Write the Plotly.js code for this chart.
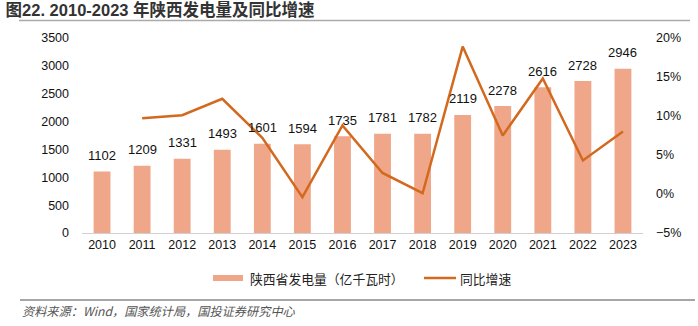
<!DOCTYPE html>
<html><head><meta charset="utf-8">
<script src="https://cdn.plot.ly/plotly-3.0.1.min.js"></script>
<style>html,body{margin:0;padding:0;background:#fff;}#chart{width:698px;height:326px;}</style>
</head><body><div id="chart"></div>
<script>
const years = ['2010','2011','2012','2013','2014','2015','2016','2017','2018','2019','2020','2021','2022','2023'];
const generation = [1102,1209,1331,1493,1601,1594,1735,1781,1782,2119,2278,2616,2728,2946];
const growth = [null,9.7,10.1,12.2,7.2,-0.4,8.8,2.7,0.1,18.9,7.5,14.8,4.3,8.0];
const barName = '陕西省发电量（亿千瓦时）';
const lineName = '同比增速';

const FONT = 'Liberation Sans, Arial, "Noto Sans CJK SC", sans-serif';
const CJK = '"Noto Sans CJK SC", sans-serif';
const BAR_COLOR = '#F0A688', LINE_COLOR = '#D2691E';
const traces = [
  {type:'bar', x:years, y:generation, name:barName, marker:{color:BAR_COLOR}, hoverinfo:'skip'},
  {type:'scatter', mode:'lines', x:years, y:growth, name:lineName, yaxis:'y2',
   line:{color:LINE_COLOR, width:2.5}, connectgaps:false}
];
const py = v => (233 - v) / 195; // pixel y -> paper y
const px = v => (v - 82) / 561;  // pixel x -> paper x
const labelAnns = years.map((yr, i) => ({
  x: i, y: generation[i], xref:'x', yref:'y', text: String(generation[i]),
  showarrow:false, yanchor:'middle', yshift:16, font:{size:13, color:'#111', family:FONT}
}));
const layout = {
  width:698, height:326, margin:{l:82, r:55, t:38, b:93},
  paper_bgcolor:'#fff', plot_bgcolor:'#fff',
  font:{family:FONT, size:12.5, color:'#111'},
  bargap:0.58, showlegend:false,
  xaxis:{type:'category', range:[-0.5, years.length - 0.5], dtick:1, showline:true, linecolor:'#d0d0d0', linewidth:1,
    ticks:'', showgrid:false, tickfont:{size:12.5}, tickangle:0},
  yaxis:{range:[0,3500], dtick:500, showgrid:false, zeroline:false, showline:false,
    ticks:'', tickfont:{size:12.5}, ticklabelstandoff:12},
  yaxis2:{overlaying:'y', side:'right', range:[-5,20], dtick:5, ticksuffix:'%',
    showgrid:false, zeroline:false, showline:false, ticks:'', tickfont:{size:12.5}, ticklabelstandoff:12},
  title:{text:'图22. 2010-2023 年陕西发电量及同比增速', x:0.008, xanchor:'left', y:(326-10)/326, yanchor:'middle',
    font:{size:16.5, family:'Liberation Sans, "Noto Sans CJK SC", sans-serif', color:'#333', weight:'bold'}},
  shapes:[
    {type:'line', xref:'paper', yref:'paper', x0:px(19), x1:px(690), y0:py(20.5), y1:py(20.5),
      line:{color:'#aaa', width:1.5}},
    {type:'line', xref:'paper', yref:'paper', x0:px(20), x1:px(695), y0:py(300), y1:py(300),
      line:{color:'#888', width:1.5}},
    {type:'rect', xref:'paper', yref:'paper', x0:px(213), x1:px(243), y0:py(281), y1:py(275),
      fillcolor:BAR_COLOR, line:{width:0}},
    {type:'line', xref:'paper', yref:'paper', x0:px(424), x1:px(456), y0:py(278), y1:py(278),
      line:{color:LINE_COLOR, width:2.5}}
  ],
  annotations: labelAnns.concat([
    {text:barName, xref:'paper', yref:'paper', x:px(248), xanchor:'left', y:py(278), yanchor:'middle',
     showarrow:false, font:{size:12.8, family:CJK, color:'#222'}},
    {text:lineName, xref:'paper', yref:'paper', x:px(458), xanchor:'left', y:py(278), yanchor:'middle',
     showarrow:false, font:{size:12.8, family:CJK, color:'#222'}},
    {text:'资料来源：Wind，国家统计局，国投证券研究中心', xref:'paper', yref:'paper',
     x:px(20), xanchor:'left', y:py(311), yanchor:'middle', showarrow:false,
     font:{size:12.2, color:'#555', family:CJK, style:'italic'}}
  ])
};
Plotly.newPlot('chart', traces, layout, {displayModeBar:false, staticPlot:true});
</script></body></html>
